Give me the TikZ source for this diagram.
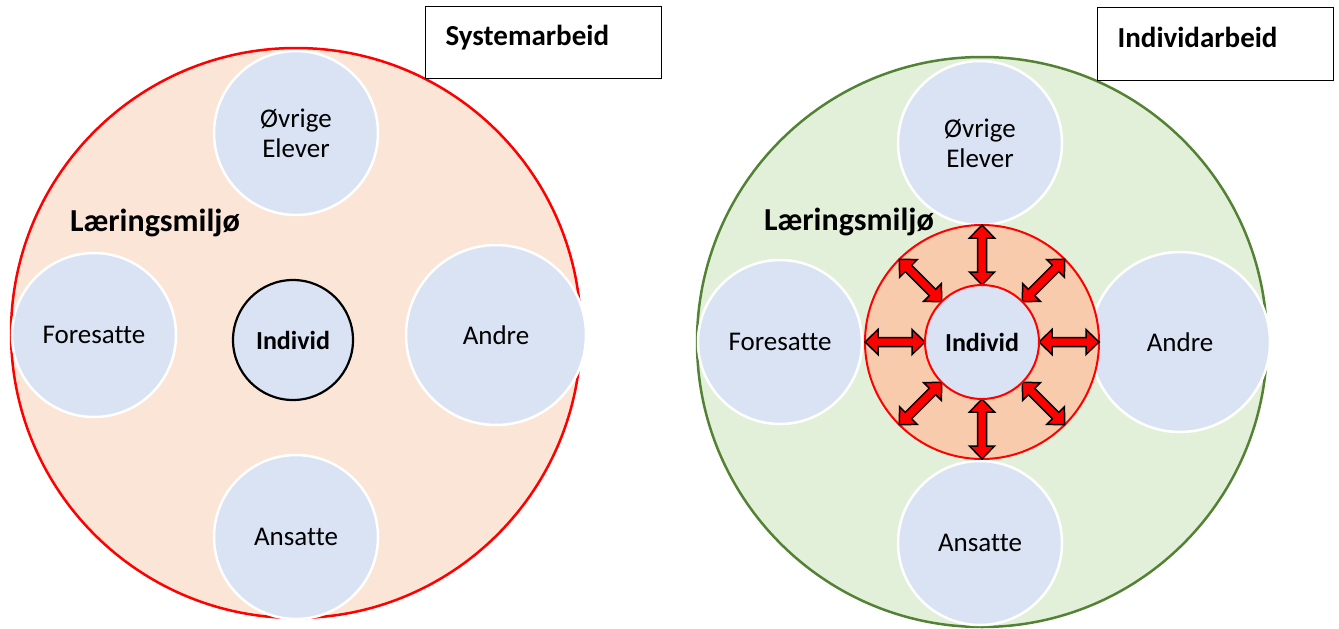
\documentclass[tikz,border=0pt]{standalone}
\usepackage{fontspec}
\setmainfont{Carlito}[Ligatures=CommonOff]
\definecolor{peach}{HTML}{FBE5D6}
\definecolor{ltblue}{HTML}{DAE3F3}
\definecolor{ltgreen}{HTML}{E2F0D9}
\definecolor{dkgreen}{HTML}{548235}
\definecolor{ringfill}{HTML}{F8CBAD}
\begin{document}
\begin{tikzpicture}[x=1pt,y=-1pt,
  member/.style={circle, fill=ltblue, draw=white, line width=2.5pt, inner sep=0pt, minimum size=#1, font=\fontsize{27}{30}\selectfont, align=center},
  member/.default=164pt,
  bigL/.style={circle, fill=peach, draw=red, line width=2.5pt, inner sep=0pt, minimum size=570pt},
  bigR/.style={circle, fill=ltgreen, draw=dkgreen, line width=2.5pt, inner sep=0pt, minimum size=570pt},
  indiv/.style={circle, fill=ltblue, inner sep=0pt, font=\fontsize{26}{30}\selectfont\bfseries},
  label/.style={font=\fontsize{32}{36}\selectfont\bfseries},
  titlebox/.style={draw=black, line width=1.2pt, fill=white, anchor=north west, minimum width=236pt, minimum height=72pt, text width=196pt, inner xsep=20pt, text height=20pt, text depth=14pt, align=left, font=\fontsize{29}{32}\selectfont\bfseries},
  blockarrow/.style={fill=red, draw=black, line width=1.5pt, line join=miter}
]
\useasboundingbox (0,0) rectangle (1339,629);

% ---------- Left: Systemarbeid ----------
\node[bigL] (envL) at (296,333) {};
\node[titlebox] (boxL) at (425,6) {Systemarbeid};
\node[label] (lmL) at (155,223) {Læringsmiljø};
\node[member] (ovL) at (296,133) {Øvrige\\Elever};
\node[member] (foL) at (94,335) {Foresatte};
\node[member=180pt] (anL) at (496,335) {Andre};
\node[member] (asL) at (296,537) {Ansatte};
\node[indiv, draw=black, line width=2.2pt, minimum size=120pt] (indL) at (293,340) {Individ};

% ---------- Right: Individarbeid ----------
\node[bigR] (envR) at (982,342) {};
\node[titlebox, minimum height=73pt] (boxR) at (1097,7) {Individarbeid};
\node[label] (lmR) at (849,222) {Læringsmiljø};
\node[member] (ovR) at (980,143) {Øvrige\\Elever};
\node[member] (foR) at (780,342) {Foresatte};
\node[member=180pt] (anR) at (1180,342) {Andre};
\node[member] (asR) at (980,543) {Ansatte};
\node[circle, fill=ringfill, draw=red, line width=2pt, inner sep=0pt, minimum size=234pt] (ringR) at (982,342) {};
\foreach \a in {0,45,...,315}{
  \begin{scope}[shift={(ringR.center)}, rotate=\a]
    \filldraw[blockarrow] (57,0) -- (70,12.5) -- (70,4.5) -- (104,4.5) -- (104,12.5) -- (117,0)
      -- (104,-12.5) -- (104,-4.5) -- (70,-4.5) -- (70,-12.5) -- cycle;
  \end{scope}
}
\node[indiv, draw=red, line width=2pt, minimum size=114pt] (indR) at (982,342) {Individ};
\end{tikzpicture}
\end{document}
